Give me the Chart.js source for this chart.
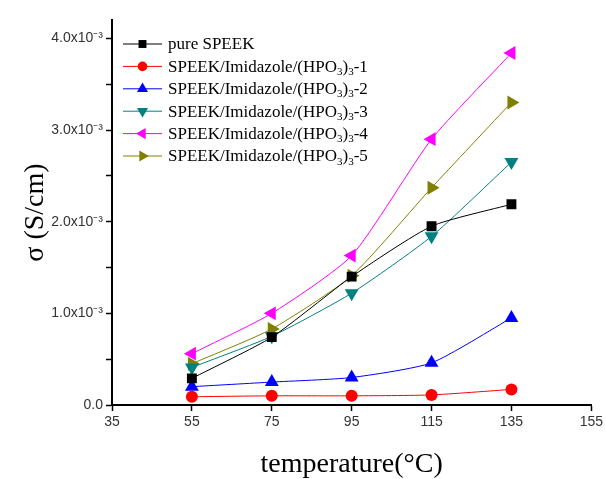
<!DOCTYPE html>
<html>
<head>
<meta charset="utf-8">
<script src="https://cdn.jsdelivr.net/npm/chart.js@4/dist/chart.umd.min.js"></script>
<style>
  html, body { margin: 0; padding: 0; background: #fff; }
  #wrap { width: 606px; height: 479px; }
</style>
</head>
<body>
<div id="wrap"><canvas id="sigmaChart"></canvas></div>
<script>
// temperatures (°C)
const temps = [55, 75, 95, 115, 135];

// conductivity, S/cm
const pureSpeek = [0.29e-3, 0.74e-3, 1.40e-3, 1.95e-3, 2.19e-3];
const mem1 = [0.09e-3, 0.10e-3, 0.10e-3, 0.11e-3, 0.17e-3];
const mem2 = [0.20e-3, 0.25e-3, 0.30e-3, 0.46e-3, 0.95e-3];
const mem3 = [0.41e-3, 0.75e-3, 1.22e-3, 1.84e-3, 2.65e-3];
const mem4 = [0.56e-3, 1.00e-3, 1.63e-3, 2.90e-3, 3.84e-3];
const mem5 = [0.45e-3, 0.83e-3, 1.41e-3, 2.37e-3, 3.30e-3];

// "_x" = subscript char
const seriesLabels = [
  "pure SPEEK",
  "SPEEK/Imidazole/(HPO_3)_3-1",
  "SPEEK/Imidazole/(HPO_3)_3-2",
  "SPEEK/Imidazole/(HPO_3)_3-3",
  "SPEEK/Imidazole/(HPO_3)_3-4",
  "SPEEK/Imidazole/(HPO_3)_3-5"
];

const yTickValues = [0, 0.5e-3, 1.0e-3, 1.5e-3, 2.0e-3, 2.5e-3, 3.0e-3, 3.5e-3, 4.0e-3];
const yTickLabels = ["0.0", "", "1.0x10\u207B\u00B3", "", "2.0x10\u207B\u00B3", "", "3.0x10\u207B\u00B3", "", "4.0x10\u207B\u00B3"];

const colors = ["#000000", "#ff0000", "#0000ff", "#008080", "#ff00ff", "#808000"];
const markers = [
  { style: "rect", radius: 7, rotation: 0 },
  { style: "circle", radius: 6, rotation: 0 },
  { style: "triangle", radius: 8, rotation: 0 },
  { style: "triangle", radius: 8, rotation: 180 },
  { style: "triangle", radius: 8, rotation: 270 },
  { style: "triangle", radius: 8, rotation: 90 }
];

const allSeries = [pureSpeek, mem1, mem2, mem3, mem4, mem5];

const datasets = allSeries.map((vals, i) => ({
  label: seriesLabels[i],
  data: temps.map((t, j) => ({ x: t, y: vals[j] })),
  borderColor: colors[i],
  backgroundColor: colors[i],
  borderWidth: 1,
  tension: 0.2,
  pointStyle: markers[i].style,
  pointRadius: markers[i].radius,
  pointRotation: markers[i].rotation,
  pointBorderWidth: 0
}));

// draws text with "_x" subscripts
function drawRich(ctx, text, x, y, size) {
  const parts = text.split(/(_.)/);
  let cx = x;
  parts.forEach(p => {
    if (!p) return;
    if (p[0] === "_") {
      ctx.font = Math.round(size * 0.62) + "px 'Liberation Serif'";
      ctx.fillText(p[1], cx, y + size * 0.28);
      cx += ctx.measureText(p[1]).width;
    } else {
      ctx.font = size + "px 'Liberation Serif'";
      ctx.fillText(p, cx, y);
      cx += ctx.measureText(p).width;
    }
  });
}

const insideLegend = {
  id: "insideLegend",
  afterDatasetsDraw(chart) {
    const ctx = chart.ctx;
    const area = chart.chartArea;
    const x0 = area.left + 11;
    const lineLen = 39;
    const rowH = 22.4;
    ctx.save();
    ctx.textBaseline = "middle";
    chart.data.datasets.forEach((ds, i) => {
      const y = area.top + 24 + i * rowH;
      ctx.strokeStyle = ds.borderColor;
      ctx.lineWidth = 1;
      ctx.beginPath();
      ctx.moveTo(x0, y);
      ctx.lineTo(x0 + lineLen, y);
      ctx.stroke();
      ctx.fillStyle = ds.backgroundColor;
      Chart.helpers.drawPoint(ctx, {
        pointStyle: ds.pointStyle,
        radius: ds.pointRadius * 0.8,
        rotation: ds.pointRotation,
        borderWidth: 0
      }, x0 + lineLen / 2, y);
      ctx.fillStyle = "#000";
      drawRich(ctx, ds.label, x0 + lineLen + 6, y + 1, 17);
    });
    ctx.restore();
  }
};

new Chart(document.getElementById("sigmaChart"), {
  type: "line",
  data: { datasets: datasets },
  plugins: [insideLegend],
  options: {
    responsive: true,
    maintainAspectRatio: false,
    animation: false,
    layout: { padding: { top: 20, right: 13, left: 0, bottom: 0 } },
    plugins: {
      legend: { display: false },
      tooltip: { enabled: false }
    },
    scales: {
      x: {
        type: "linear",
        min: 35,
        max: 155,
        ticks: {
          stepSize: 20,
          color: "#333",
          font: { family: "'Liberation Sans', Arial", size: 14 },
          padding: 3,
          maxRotation: 0
        },
        grid: { drawOnChartArea: false, drawTicks: true, tickLength: 6, color: "#000", tickWidth: 1.5 },
        border: { display: true, color: "#000", width: 2 },
        title: {
          display: true,
          text: "temperature(\u00B0C)",
          color: "#000",
          font: { family: "'Liberation Serif', 'Times New Roman', serif", size: 28, lineHeight: 1 },
          padding: { top: 0, bottom: 0 }
        },
        afterFit(scale) { scale.height = 74; }
      },
      y: {
        type: "linear",
        min: 0,
        max: 4.2e-3,
        afterBuildTicks(scale) {
          scale.ticks = yTickValues.map(v => ({ value: v }));
        },
        ticks: {
          color: "#333",
          font: { family: "'Liberation Sans', Arial", size: 14 },
          padding: 3,
          callback: (value, index) => yTickLabels[index]
        },
        grid: { drawOnChartArea: false, drawTicks: true, tickLength: 6, color: "#000", tickWidth: 1.5 },
        border: { display: true, color: "#000", width: 2 },
        title: {
          display: true,
          text: "\u03C3 (S/cm)",
          color: "#000",
          font: { family: "'Liberation Serif', 'Times New Roman', serif", size: 28, lineHeight: 1 },
          padding: { top: 22, bottom: 0 }
        },
        afterFit(scale) { scale.width = 112; }
      }
    }
  }
});
</script>
</body>
</html>
